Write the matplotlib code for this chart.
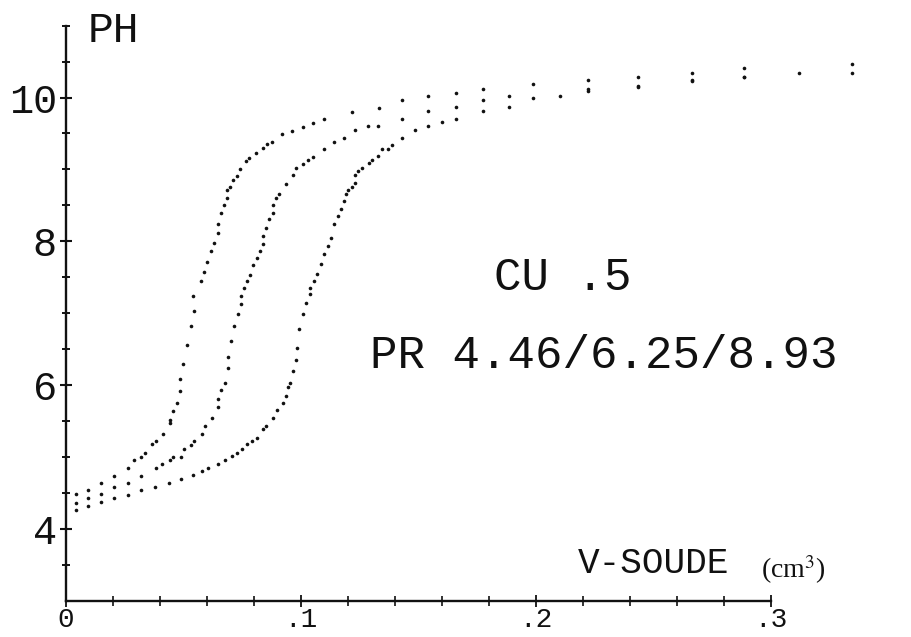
import numpy as np
import matplotlib
matplotlib.use("Agg")
import matplotlib.pyplot as plt
from matplotlib.ticker import FixedLocator, NullFormatter

# Titration curves: pH against volume of soda added (cm3), three runs
v1 = [0.00426, 0.00949, 0.01489, 0.02043, 0.02626, 0.02894, 0.03204, 0.03349,
      0.03647, 0.03830, 0.04115, 0.04426, 0.04426, 0.04566, 0.04711, 0.04851,
      0.04851, 0.04991, 0.05162, 0.05306, 0.05447, 0.05417, 0.05732, 0.05872,
      0.06021, 0.06170, 0.06311, 0.06455, 0.06455, 0.06583, 0.06723, 0.06838,
      0.06838, 0.06979, 0.07119, 0.07289, 0.07404, 0.07660, 0.07800, 0.08085,
      0.08370, 0.08566, 0.08753, 0.09179, 0.09604, 0.10072, 0.10498, 0.10979,
      0.12157, 0.13332, 0.14285, 0.15417, 0.16596, 0.17732, 0.19860, 0.22226,
      0.24353, 0.26626, 0.28864, 0.33434]
ph1 = [4.483, 4.538, 4.640, 4.741, 4.848, 4.955, 5.006, 5.061,
       5.178, 5.224, 5.325, 5.474, 5.516, 5.641, 5.752, 5.915,
       6.082, 6.291, 6.559, 6.823, 7.032, 7.241, 7.449, 7.579,
       7.713, 7.866, 7.971, 8.121, 8.238, 8.399, 8.502, 8.608,
       8.711, 8.757, 8.850, 8.909, 9.003, 9.118, 9.164, 9.234,
       9.303, 9.350, 9.387, 9.498, 9.535, 9.595, 9.642, 9.702,
       9.804, 9.859, 9.967, 10.019, 10.068, 10.124, 10.185, 10.241,
       10.291, 10.346, 10.407, 10.467]

v2 = [0.00426, 0.00949, 0.01489, 0.02043, 0.02626, 0.03191, 0.03830, 0.04098,
      0.04426, 0.04566, 0.04881, 0.05034, 0.05306, 0.05460, 0.05774, 0.05915,
      0.06200, 0.06455, 0.06481, 0.06617, 0.06766, 0.06906, 0.06894, 0.07021,
      0.07149, 0.07306, 0.07434, 0.07434, 0.07562, 0.07702, 0.07830, 0.07970,
      0.08128, 0.08255, 0.08370, 0.08396, 0.08511, 0.08651, 0.08796, 0.08796,
      0.08936, 0.09077, 0.09362, 0.09647, 0.09787, 0.10072, 0.10311, 0.10498,
      0.10979, 0.11404, 0.11851, 0.12298, 0.12872, 0.13289, 0.14285, 0.15417,
      0.16596, 0.17732, 0.18864, 0.21021, 0.22226, 0.24353, 0.26626, 0.28864,
      0.31204]
ph2 = [4.366, 4.427, 4.483, 4.584, 4.644, 4.741, 4.848, 4.908,
       4.955, 5.006, 5.006, 5.117, 5.168, 5.224, 5.325, 5.433,
       5.544, 5.697, 5.804, 5.933, 6.035, 6.243, 6.392, 6.615,
       6.823, 6.986, 7.136, 7.241, 7.345, 7.449, 7.533, 7.672,
       7.765, 7.871, 7.968, 8.075, 8.182, 8.307, 8.399, 8.506,
       8.608, 8.655, 8.794, 8.919, 9.017, 9.081, 9.132, 9.178,
       9.281, 9.387, 9.442, 9.549, 9.605, 9.602, 9.706, 9.814,
       9.865, 9.967, 10.022, 10.022, 10.092, 10.161, 10.241, 10.291,
       10.346]

v3 = [0.00426, 0.00949, 0.01489, 0.02043, 0.02626, 0.03191, 0.03787, 0.04396,
      0.04881, 0.05417, 0.05774, 0.06055, 0.06481, 0.06766, 0.07051, 0.07289,
      0.07477, 0.07715, 0.07902, 0.08115, 0.08396, 0.08498, 0.08796, 0.08966,
      0.09247, 0.09362, 0.09426, 0.09519, 0.09672, 0.09787, 0.09817, 0.09928,
      0.10072, 0.10213, 0.10383, 0.10383, 0.10532, 0.10681, 0.10830, 0.10987,
      0.11128, 0.11264, 0.11404, 0.11587, 0.11702, 0.11843, 0.11894, 0.12013,
      0.12157, 0.12298, 0.12319, 0.12438, 0.12583, 0.12894, 0.13021, 0.13289,
      0.13434, 0.13715, 0.13860, 0.14285, 0.14851, 0.15417, 0.15987, 0.16596,
      0.17732, 0.18864, 0.19860, 0.22226, 0.24353, 0.26626, 0.28864, 0.33434]
ph3 = [4.264, 4.316, 4.371, 4.427, 4.477, 4.538, 4.584, 4.644,
       4.695, 4.751, 4.802, 4.848, 4.908, 4.955, 5.015, 5.061,
       5.108, 5.178, 5.224, 5.270, 5.387, 5.433, 5.548, 5.651,
       5.757, 5.857, 5.975, 6.031, 6.193, 6.357, 6.517, 6.777,
       6.986, 7.143, 7.264, 7.352, 7.449, 7.551, 7.681, 7.821,
       7.929, 8.051, 8.238, 8.353, 8.446, 8.562, 8.663, 8.711,
       8.761, 8.816, 8.921, 8.979, 9.025, 9.083, 9.132, 9.181,
       9.281, 9.281, 9.341, 9.442, 9.545, 9.601, 9.658, 9.706,
       9.814, 9.869, 9.994, 10.113, 10.147, 10.231, 10.286, 10.342]

x_label_pos = [0.0, 0.1, 0.2, 0.3]
x_labels = ["0", ".1", ".2", ".3"]
x_minor = [0.02, 0.04, 0.06, 0.08, 0.12, 0.14, 0.16, 0.18,
           0.22, 0.24, 0.26, 0.28]
y_label_pos = [4, 6, 8, 10]
y_labels = ["4", "6", "8", "10"]
y_minor = [3.5, 4.5, 5, 5.5, 6.5, 7, 7.5, 8.5, 9, 9.5, 10.5, 11]

MONO = "Liberation Mono"
INK = "#111111"
W, H = 912, 637

fig = plt.figure(figsize=(W / 100, H / 100), dpi=100)
fig.patch.set_facecolor("white")
ax = fig.add_axes([66 / W, 36 / H, (W - 66) / W, 597 / H])
ax.set_xlim(0, 0.36)
ax.set_ylim(3, 11.3)
ax.patch.set_alpha(0)

for v, ph in ((v1, ph1), (v2, ph2), (v3, ph3)):
    ax.plot(v, ph, linestyle="none", marker="o", ms=2.6,
            mfc=INK, mec=INK, mew=0, clip_on=False)

# plotter-style axes: only left and bottom, crossing ticks
for side in ("top", "right"):
    ax.spines[side].set_visible(False)
ax.spines["left"].set_bounds(3, 11)
ax.spines["bottom"].set_bounds(0, 0.3)
for side in ("left", "bottom"):
    ax.spines[side].set_linewidth(1.7)
    ax.spines[side].set_color(INK)

ax.xaxis.set_major_locator(FixedLocator(x_label_pos))
ax.set_xticklabels(x_labels)
ax.xaxis.set_minor_locator(FixedLocator(x_minor))
ax.yaxis.set_major_locator(FixedLocator(y_label_pos))
ax.set_yticklabels(y_labels)
ax.yaxis.set_minor_locator(FixedLocator(y_minor))
ax.xaxis.set_minor_formatter(NullFormatter())
ax.yaxis.set_minor_formatter(NullFormatter())

ax.tick_params(axis="x", which="major", direction="inout", length=8,
               width=1.3, color=INK, pad=0.3)
ax.tick_params(axis="x", which="minor", direction="inout", length=7,
               width=1.2, color=INK)
ax.tick_params(axis="y", which="major", direction="inout", length=9,
               width=1.5, color=INK, pad=2)
ax.tick_params(axis="y", which="minor", direction="inout", length=6,
               width=1.4, color=INK)
for lab in ax.get_yticklabels():
    lab.set_fontfamily(MONO)
    lab.set_fontsize(29)
    lab.set_color(INK)
for lab in ax.get_xticklabels():
    lab.set_fontfamily(MONO)
    lab.set_fontsize(20)
    lab.set_color(INK)

# annotations in the plotting area
fig.text(88 / W, 1 - 42 / H, "PH", family=MONO, fontsize=31,
         color=INK, va="baseline", ha="left")
fig.text(578 / W, 1 - 573 / H, "V-SOUDE", family=MONO, fontsize=26,
         color=INK, va="baseline", ha="left")
fig.text(761 / W, 1 - 578 / H, r"(cm$^3$)", family="Liberation Serif",
         math_fontfamily="stix", fontsize=20, color=INK,
         va="baseline", ha="left")
fig.text(494 / W, 1 - 290 / H, "CU .5", family=MONO, fontsize=33,
         color=INK, va="baseline", ha="left")
fig.text(370 / W, 1 - 368 / H, "PR 4.46/6.25/8.93", family=MONO,
         fontsize=33, color=INK, va="baseline", ha="left")

fig.savefig("out.png", dpi=100, facecolor="white")
